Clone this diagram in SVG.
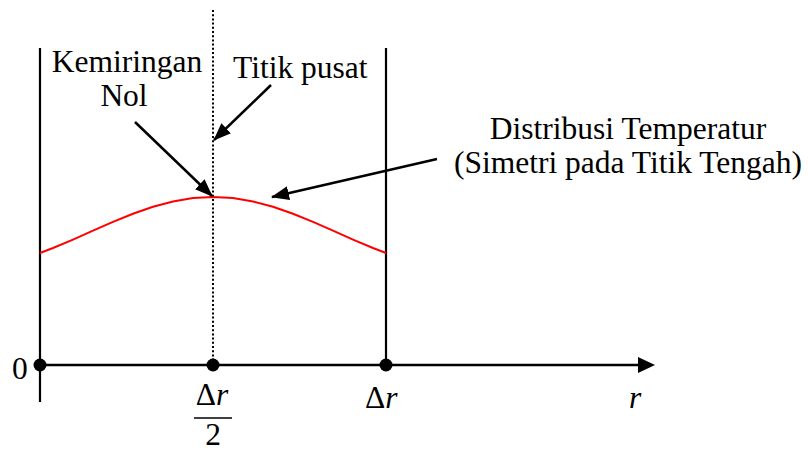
<svg xmlns="http://www.w3.org/2000/svg" width="808" height="451" viewBox="0 0 808 451">
<style>
text{font-family:'Liberation Serif','Times New Roman',serif;font-size:31.5px;fill:#000}
.it{font-style:italic}
.ln{stroke:#000;stroke-width:2.2;fill:none}
.ar{stroke:#000;stroke-width:2.5;fill:none;marker-end:url(#ah)}
.dot{fill:#000}
</style>
<defs>
<marker id="ah" markerUnits="userSpaceOnUse" viewBox="0 0 18 14" refX="17" refY="7" markerWidth="18" markerHeight="14" orient="auto">
<path d="M0,0 L18,7 L0,14 z" fill="#000"/>
</marker>
</defs>
<rect width="808" height="451" fill="#fff"/>
<g id="walls">
<line class="ln" x1="40" y1="48" x2="40" y2="402"/>
<line class="ln" x1="386" y1="48" x2="386" y2="365"/>
<line x1="213" y1="10" x2="213" y2="365" stroke="#000" stroke-width="2" stroke-dasharray="2 2.2"/>
</g>
<g id="curve">
<polyline fill="none" stroke="#f00" stroke-width="2" points="40,253 53,248 73,239.6 93,230.7 113,221.9 133,213.7 153,206.8 173,201.5 193,198.1 213,197 233,198.1 253,201.5 273,206.8 293,213.7 313,221.9 333,230.7 353,239.6 373,248 386,253"/>
</g>
<g id="axis">
<line x1="40" y1="365" x2="640" y2="365" stroke="#000" stroke-width="2.6"/>
<path d="M638,357 L655,365 L638,373 z" fill="#000"/>
<circle class="dot" cx="40" cy="365" r="6.5"/>
<circle class="dot" cx="213" cy="365" r="6.5"/>
<circle class="dot" cx="386" cy="365" r="6.5"/>
</g>
<g id="connectors">
<line class="ar" x1="135" y1="122" x2="212" y2="196"/>
<line class="ar" x1="271" y1="85" x2="214" y2="140"/>
<line class="ar" x1="437" y1="159" x2="272" y2="197"/>
</g>
<g id="label-kemiringan">
<text x="127" y="72" text-anchor="middle">Kemiringan</text>
<text x="124" y="106" text-anchor="middle">Nol</text>
</g>
<g id="label-titik">
<text x="233" y="78">Titik pusat</text>
</g>
<g id="label-distribusi">
<text x="628" y="139" text-anchor="middle">Distribusi Temperatur</text>
<text x="628" y="173" text-anchor="middle">(Simetri pada Titik Tengah)</text>
</g>
<g id="axis-labels">
<text x="12" y="379">0</text>
<text x="212" y="405" text-anchor="middle">Δ<tspan class="it">r</tspan></text>
<line x1="194" y1="418" x2="232" y2="418" stroke="#000" stroke-width="1.6"/>
<text x="213" y="445" text-anchor="middle">2</text>
<text x="365" y="408">Δ<tspan class="it">r</tspan></text>
<text x="629" y="408" class="it">r</text>
</g>
</svg>
